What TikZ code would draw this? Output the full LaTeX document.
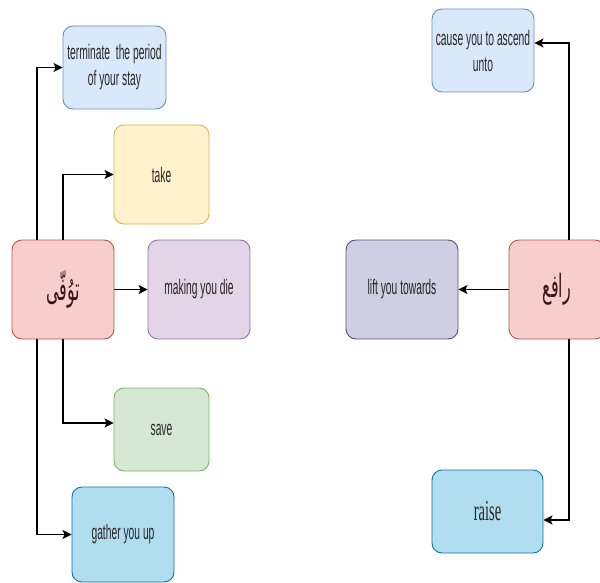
\documentclass[tikz,border=0pt]{standalone}
\usepackage{fontspec}
\setmainfont[FakeStretch=0.49]{Liberation Sans}
\newfontfamily\serifnarrow[FakeStretch=0.5]{Liberation Serif}
\newfontfamily\arabicfont[Script=Arabic,FakeStretch=0.5]{DejaVu Sans}
\TeXXeTstate=1
\usetikzlibrary{arrows.meta}
\definecolor{fblue}{HTML}{DAE8FC}\definecolor{dblue}{HTML}{6C8EBF}
\definecolor{fyellow}{HTML}{FFF2CC}\definecolor{dyellow}{HTML}{D6B656}
\definecolor{fred}{HTML}{F8CECC}\definecolor{dred}{HTML}{B85450}
\definecolor{fpurple}{HTML}{E1D5E7}\definecolor{dpurple}{HTML}{9673A6}
\definecolor{fgreen}{HTML}{D5E8D4}\definecolor{dgreen}{HTML}{82B366}
\definecolor{fcyan}{HTML}{B1DDF0}\definecolor{dcyan}{HTML}{10739E}
\definecolor{flav}{HTML}{D0CEE2}\definecolor{dlav}{HTML}{56517E}
\definecolor{txt}{HTML}{262626}
\definecolor{artxt}{HTML}{3A1518}
\tikzset{
  box/.style={draw, rounded corners=10pt, line width=0.9pt, inner sep=2pt,
    align=center, text=txt, font=\fontsize{21}{26}\selectfont},
  artext/.style={text=artxt, font=\arabicfont\fontsize{32}{36}\selectfont},
  conn/.style={line width=1.3pt, draw=black, -{Stealth[length=9pt,width=9pt,inset=2pt]}},
}
\begin{document}
\begin{tikzpicture}[x=1pt,y=-1pt]
\useasboundingbox (0,0) rectangle (600,583);
% left group
\node[box, fill=fblue, draw=dblue, minimum width=103pt, minimum height=83pt] (term) at (114.5,67.5) {terminate\ \ the period\\of your stay};
\node[box, fill=fyellow, draw=dyellow, minimum width=95pt, minimum height=99pt] (take) at (161.5,174.5) {take};
\node[box, fill=fred, draw=dred, minimum width=102pt, minimum height=99pt, artext] (taw) at (63,289.5) {\beginR توُفّى\endR};
\node[box, fill=fpurple, draw=dpurple, minimum width=102pt, minimum height=99pt] (die) at (199,289.5) {making you die};
\node[box, fill=fgreen, draw=dgreen, minimum width=95pt, minimum height=83pt] (save) at (161.5,429.5) {save};
\node[box, fill=fcyan, draw=dcyan, minimum width=102pt, minimum height=95pt] (gather) at (123,534.5) {gather you up};
% right group
\node[box, fill=fblue, draw=dblue, minimum width=102pt, minimum height=83pt] (cause) at (483,50.5) {cause you to ascend\\unto};
\node[box, fill=flav, draw=dlav, minimum width=112pt, minimum height=99pt] (lift) at (402,289.5) {lift you towards};
\node[box, fill=fred, draw=dred, minimum width=96pt, minimum height=99pt, artext] (rafi) at (557,289.5) {\beginR رافع\endR};
\node[box, fill=fcyan, draw=dcyan, minimum width=111pt, minimum height=83pt, font=\serifnarrow\fontsize{29}{32}\selectfont] (raise) at (487.5,511.5) {raise};
% connectors
\draw[conn] ([xshift=-26pt]taw.north) |- (term.west);
\draw[conn] (taw.north) |- (take.west);
\draw[conn] (taw.east) -- (die.west);
\draw[conn] (taw.south) |- ([yshift=6.5pt]save.west);
\draw[conn] ([xshift=-26pt]taw.south) |- (gather.west);
\draw[conn] ([xshift=12pt]rafi.north) |- ([yshift=7.5pt]cause.east);
\draw[conn] (rafi.west) -- (lift.east);
\draw[conn] ([xshift=12pt]rafi.south) |- ([yshift=-8.5pt]raise.east);
\end{tikzpicture}
\end{document}
